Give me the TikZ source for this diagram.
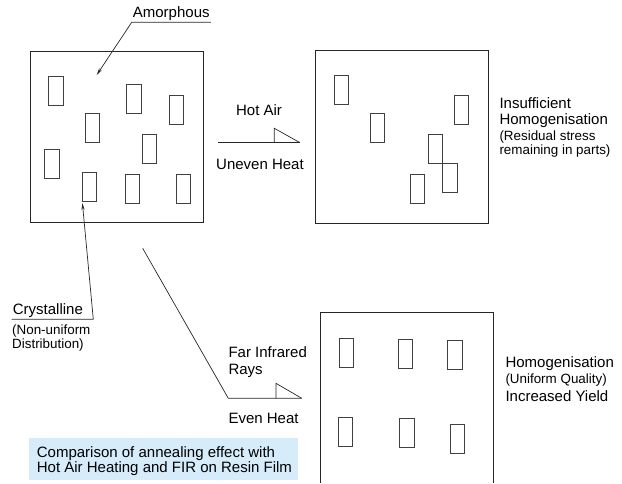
\documentclass[tikz,border=0pt]{standalone}
\usepackage{fontspec}
\setmainfont{Liberation Sans}
\usetikzlibrary{arrows.meta}
\definecolor{capblue}{RGB}{214,236,250}
\newcommand{\bigtxt}{\fontsize{15}{16.4}\selectfont}
\newcommand{\smalltxt}{\fontsize{13.4}{14.4}\selectfont}

\begin{document}
\begin{tikzpicture}[x=1pt,y=-1pt,
    film/.style={draw=black!85, line width=0.9pt},
    grain/.style={draw=black!75, line width=0.9pt},
    leader/.style={draw=black!85, line width=0.7pt},
    tip/.style={-{Stealth[length=7pt,width=3.2pt]}},
    lbl/.style={font=\bigtxt, inner sep=0pt, align=left},
    sublbl/.style={font=\smalltxt, inner sep=0pt, align=left}]
			\useasboundingbox (0,0) rectangle (622,483);
			% the three films
			\draw[film] (30,51) rectangle (203.3,222.7);
			\draw[film] (315,50) rectangle (488.3,223.3);
			\draw[film] (320,483) -- (320,312.7) -- (493.3,312.7) -- (493.3,483);
			% crystalline grains
			\foreach \gx/\gy in {48.7/76, 126.7/84.3, 169.3/95.7, 85.3/113.3, 142.3/134.3,
			    44.7/149, 82.3/172, 125.3/174.3, 176/174,
			    334/75.7, 370.3/113, 454/95.3, 428/134.7, 442.7/163.3, 410.3/174.3,
			    339/338.3, 398.3/339, 447.7/340.7, 338.3/417.3, 399.7/418.3, 450/424.3}
			  \draw[grain] (\gx,\gy) rectangle ++(14.6,29);
			% labels on the first film
			\node[lbl, inner sep=1pt, anchor=south west] (amorph) at (131.7,22.3) {Amorphous};
			\coordinate (amorphtip) at (96.7,75);
			\draw[leader, tip] (amorph.south east) -- (amorph.south west) -- (amorphtip);
			\node[lbl, inner sep=1pt, anchor=south west] (cryst) at (11.7,319.3) {Crystalline};
			\coordinate (crystbend) at (93.3,319.3);
			\coordinate (crysttip) at (82.4,203);
			\draw[leader, tip] (cryst.south west) -- (crystbend) -- (crysttip);
			\node[sublbl, anchor=west] (crystnote) at (12,338) {(Non-uniform\\ Distribution)};
			% hot air
			\coordinate (hotstart) at (218.3,142.7);
			\coordinate (hotend) at (300,142.7);
			\coordinate (hotbase) at (274.3,142.7);
			\draw[leader] (hotstart) -- (hotend);
			\draw[leader] (hotbase) -- ++(0,-14.4) -- (hotend);
			\node[lbl] (hotair) at (259,110) {Hot Air};
			\node[lbl] (uneven) at (260,164) {Uneven Heat};
			% far infrared
			\coordinate (firstart) at (142.7,248.3);
			\coordinate (firbend) at (228.3,398.3);
			\coordinate (firend) at (301.7,398.3);
			\coordinate (firbase) at (276,398.3);
			\draw[leader] (firstart) -- (firbend) -- (firend);
			\draw[leader] (firbase) -- ++(0,-15) -- (firend);
			\node[lbl, anchor=west] (firrays) at (228.3,362) {Far Infrared\\Rays};
			\node[lbl, anchor=west] (even) at (228.3,418.3) {Even Heat};
			% results
			\node[lbl, anchor=west] (insuff) at (499.3,112.5) {Insufficient\\Homogenisation};
			\node[sublbl, anchor=west] (residual) at (499.3,144.3) {(Residual stress\\remaining in parts)};
			\node[lbl, anchor=west] (homog) at (505.3,364) {Homogenisation};
			\node[sublbl, anchor=west] (uniform) at (505.3,380) {(Uniform Quality)};
			\node[lbl, anchor=west] (yield) at (505.3,396) {Increased Yield};
			% caption
			\fill[capblue] (29.3,438.3) rectangle (298.3,479.5);
			\node[lbl, anchor=west, font=\fontsize{15}{15}\selectfont] (caption) at (36.7,460.8)
			      {Comparison of annealing effect with\\Hot Air Heating and FIR on Resin Film};
		\end{tikzpicture}
\end{document}
